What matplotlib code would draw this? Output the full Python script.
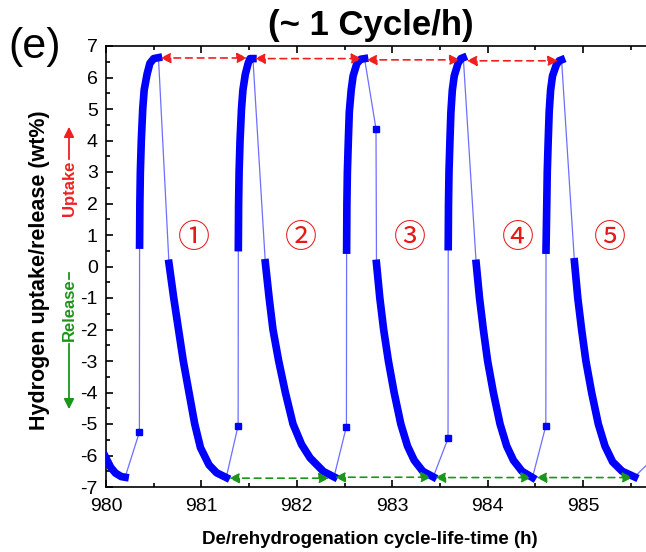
import numpy as np
import matplotlib
matplotlib.use("Agg")
import matplotlib.pyplot as plt

plt.rcParams['font.family'] = ['Liberation Sans', 'DejaVu Sans']
plt.rcParams['axes.unicode_minus'] = False

# release tail left over from the cycle before 980 h
tail_t = [979.99, 980.0, 980.05, 980.1, 980.16, 980.2]
tail_wt = [-6.02, -6.08, -6.38, -6.56, -6.67, -6.69]

# lone recorded points (square symbols) between the dense runs
lone_t = [980.35, 981.385, 982.52, 982.83, 983.585, 984.61]
lone_wt = [-5.26, -5.05, -5.08, 4.37, -5.46, -5.06]

# dense uptake runs, one list per cycle
uptake_t = [
    [980.352, 980.355, 980.36, 980.37, 980.385, 980.40, 980.43, 980.46, 980.50, 980.55],
    [981.387, 981.39, 981.395, 981.405, 981.42, 981.435, 981.46, 981.49, 981.51, 981.54],
    [982.522, 982.525, 982.53, 982.54, 982.55, 982.57, 982.59, 982.63, 982.67, 982.71],
    [983.587, 983.59, 983.595, 983.605, 983.615, 983.63, 983.65, 983.69, 983.72, 983.745],
    [984.612, 984.62, 984.625, 984.635, 984.645, 984.66, 984.68, 984.72, 984.75, 984.775],
]
uptake_wt = [
    [0.68, 2.0, 3.0, 4.0, 5.0, 5.6, 6.1, 6.45, 6.6, 6.63],
    [0.60, 2.0, 3.0, 4.0, 5.0, 5.6, 6.1, 6.45, 6.6, 6.6],
    [0.52, 2.0, 3.0, 4.0, 4.9, 5.6, 6.05, 6.45, 6.58, 6.6],
    [0.63, 2.0, 3.0, 4.0, 4.9, 5.6, 6.05, 6.45, 6.6, 6.63],
    [0.52, 2.0, 3.0, 4.0, 4.9, 5.6, 6.05, 6.4, 6.53, 6.56],
]

# dense release runs, one list per cycle
release_t = [
    [980.66, 980.71, 980.76, 980.81, 980.87, 980.93, 980.99, 981.08, 981.16, 981.26],
    [981.67, 981.71, 981.75, 981.81, 981.88, 981.96, 982.05, 982.14, 982.28, 982.39],
    [982.835, 982.87, 982.91, 982.96, 983.02, 983.09, 983.16, 983.23, 983.32, 983.43],
    [983.88, 983.915, 983.955, 984.0, 984.06, 984.13, 984.2, 984.27, 984.36, 984.47],
    [984.91, 984.945, 984.985, 985.03, 985.09, 985.16, 985.23, 985.31, 985.41, 985.54],
]
release_wt = [
    [0.1, -1.0, -2.0, -3.0, -4.0, -5.0, -5.75, -6.3, -6.55, -6.7],
    [0.12, -1.0, -2.0, -3.0, -4.0, -5.0, -5.65, -6.08, -6.51, -6.68],
    [0.1, -1.0, -2.0, -3.0, -4.0, -5.0, -5.7, -6.15, -6.5, -6.68],
    [0.1, -1.0, -2.0, -3.0, -4.0, -5.0, -5.7, -6.15, -6.5, -6.7],
    [0.15, -1.0, -2.0, -3.0, -4.0, -5.0, -5.7, -6.2, -6.5, -6.68],
]

# next point, already past the right edge
after_t = [985.70]
after_wt = [-6.2]

# peak-to-peak arrows (uptake) and trough-to-trough arrows (release)
up_arrow_start = [980.57, 981.56, 982.73, 983.78]
up_arrow_end = [981.48, 982.68, 983.71, 984.74]
up_arrow_wt = [6.62, 6.60, 6.56, 6.53]
rel_arrow_start = [981.29, 982.40, 983.45, 984.51]
rel_arrow_end = [982.34, 983.41, 984.46, 985.52]
rel_arrow_wt = [-6.72, -6.69, -6.70, -6.70]

cycle_labels = ['①', '②', '③', '④', '⑤']
cycle_label_t = [980.925, 982.045, 983.19, 984.32, 985.28]
cycle_label_wt = [0.9, 0.9, 0.9, 0.9, 0.9]

# whole record in time order for the thin connecting line
all_t = np.array(tail_t + lone_t + sum(uptake_t, []) + sum(release_t, []) + after_t)
all_wt = np.array(tail_wt + lone_wt + sum(uptake_wt, []) + sum(release_wt, []) + after_wt)
order = np.argsort(all_t, kind='stable')
all_t, all_wt = all_t[order], all_wt[order]

fig = plt.figure(figsize=(6.46, 5.52), dpi=100)
ax = fig.add_axes([106 / 646, 1 - 487 / 552, 1 - 106 / 646, 441 / 552])

blue = '#0000ff'
ax.plot(all_t, all_wt, color='#6e6eff', lw=0.9, zorder=2)
ax.plot(tail_t, tail_wt, color=blue, lw=5.5, solid_capstyle='projecting', zorder=3)
for t, w in zip(uptake_t, uptake_wt):
    ax.plot(t, w, color=blue, lw=5.5, solid_capstyle='projecting',
            solid_joinstyle='round', zorder=3)
for t, w in zip(release_t, release_wt):
    ax.plot(t, w, color=blue, lw=5.5, solid_capstyle='projecting',
            solid_joinstyle='round', zorder=3)
ax.plot(lone_t, lone_wt, 's', color=blue, ms=5, lw=0, zorder=3)

for a, b, w in zip(up_arrow_start, up_arrow_end, up_arrow_wt):
    ax.annotate('', xy=(b, w), xytext=(a, w),
                arrowprops=dict(arrowstyle='<|-|>,head_length=0.6,head_width=0.3',
                                color='#f02020', lw=1.2, ls=(0, (4, 3)),
                                shrinkA=0, shrinkB=0), zorder=4)
for a, b, w in zip(rel_arrow_start, rel_arrow_end, rel_arrow_wt):
    ax.annotate('', xy=(b, w), xytext=(a, w),
                arrowprops=dict(arrowstyle='<|-|>,head_length=0.6,head_width=0.3',
                                color='#1a961a', lw=1.2, ls=(0, (4, 3)),
                                shrinkA=0, shrinkB=0), zorder=4)

for s, t, w in zip(cycle_labels, cycle_label_t, cycle_label_wt):
    ax.text(t, w, s, color='#e81818', fontsize=23, ha='center', va='center',
            family=['Noto Sans CJK JP', 'DejaVu Sans'])

ax.set_xlim(980, 985.66)
ax.set_ylim(-7, 7)
ax.set_xticks(np.arange(980, 986, 1))
ax.set_xticks(np.arange(980, 986, 0.5), minor=True)
ax.set_yticks(np.arange(-7, 8, 1))
ax.set_yticks(np.arange(-7, 7.5, 0.5), minor=True)
ax.tick_params(which='both', direction='in', top=True, right=False, width=1.2,
               labelsize=14)
ax.tick_params(which='major', length=5, pad=6)
ax.tick_params(which='minor', length=3)
ax.tick_params(axis='x', pad=8)
ax.spines['right'].set_visible(False)
for side in ['left', 'bottom', 'top']:
    ax.spines[side].set_linewidth(1.2)

fig.text(370 / 646, 1 - 540 / 552, 'De/rehydrogenation cycle-life-time (h)',
         ha='center', va='center', fontsize=13.5, fontweight='bold')
fig.text(40 / 646, 1 - 270 / 552, 'Hydrogen uptake/release (wt%)',
         ha='center', va='center', rotation=90, fontsize=15.5, fontweight='bold')
fig.text(371 / 646, 1 - 25 / 552, '(~ 1 Cycle/h)', ha='center', va='center',
         fontsize=25, fontweight='bold')
fig.text(35 / 646, 1 - 47 / 552, '(e)', ha='center', va='center', fontsize=31)

# Uptake / Release side labels with arrows
fig.text(69 / 646, 1 - 188 / 552, 'Uptake', ha='center', va='center',
         rotation=90, fontsize=12, fontweight='bold', color='#f02020')
fig.text(69 / 646, 1 - 310 / 552, 'Release', ha='center', va='center',
         rotation=90, fontsize=12, fontweight='bold', color='#1a961a')
fig.patches.append(matplotlib.patches.FancyArrowPatch(
    (69 / 646, 1 - 162 / 552), (69 / 646, 1 - 124 / 552),
    transform=fig.transFigure, arrowstyle='-|>,head_length=6,head_width=3',
    color='#f02020', lw=1.3))
fig.patches.append(matplotlib.patches.FancyArrowPatch(
    (69 / 646, 1 - 341 / 552), (69 / 646, 1 - 412 / 552),
    transform=fig.transFigure, arrowstyle='-|>,head_length=6,head_width=3',
    color='#1a961a', lw=1.3))
fig.lines.append(matplotlib.lines.Line2D(
    [69 / 646, 69 / 646], [1 - 273 / 552, 1 - 279 / 552],
    transform=fig.transFigure, color='#1a961a', lw=1.3))

fig.savefig('out.png', dpi=100)
